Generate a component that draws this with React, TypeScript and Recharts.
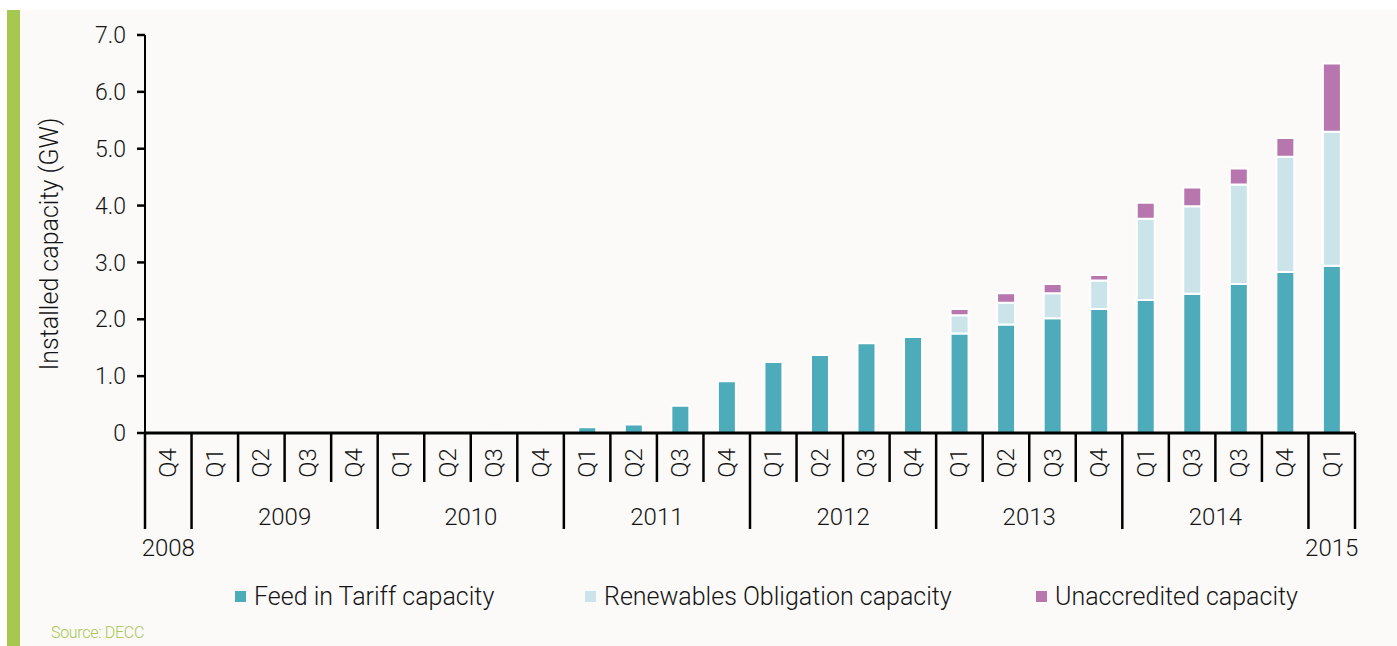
import React from 'react';
import { BarChart, Bar, XAxis, YAxis, Label } from 'recharts';

const quarters = ['Q4','Q1','Q2','Q3','Q4','Q1','Q2','Q3','Q4','Q1','Q2','Q3','Q4','Q1','Q2','Q3','Q4','Q1','Q2','Q3','Q4','Q1','Q3','Q3','Q4','Q1'];
const years = ['2008','2009','2009','2009','2009','2010','2010','2010','2010','2011','2011','2011','2011','2012','2012','2012','2012','2013','2013','2013','2013','2014','2014','2014','2014','2015'];
const feedInTariff = [0,0,0,0,0,0,0,0.01,0.01,0.10,0.15,0.48,0.91,1.25,1.37,1.58,1.69,1.75,1.91,2.02,2.18,2.34,2.45,2.62,2.83,2.94];
const renewablesObligation = [0,0,0,0,0,0,0,0,0,0,0,0,0,0,0,0,0,0.32,0.38,0.44,0.50,1.43,1.54,1.75,2.03,2.36];
const unaccredited = [0,0,0,0,0,0,0,0,0,0,0,0,0,0,0,0,0,0.11,0.17,0.16,0.10,0.28,0.33,0.28,0.33,1.20];
const yTicks = [0,1,2,3,4,5,6,7];

const seriesNames = ['Feed in Tariff capacity','Renewables Obligation capacity','Unaccredited capacity'];
const colors = ['#4eabba','#cbe4ea','#b776ae'];
const yAxisTitle = 'Installed capacity (GW)';

const data = quarters.map((q, i) => ({
  key: `${years[i]}-${q}-${i}`,
  fit: feedInTariff[i],
  ro: renewablesObligation[i],
  un: unaccredited[i],
}));

const W = 1397;
const H = 646;
const MARGIN = { top: 35, right: 42, left: 0, bottom: 93 };
const Y_AXIS_W = 145;
const X_AXIS_H = 120;
const N = quarters.length;
const BAND = (W - MARGIN.left - MARGIN.right - Y_AXIS_W) / N;
const TEXT = '#141414';
const FW = 300;

const QuarterTick = (props: any) => {
  const { x, y, index } = props;
  const i = index;
  const left = x - BAND / 2;
  const right = x + BAND / 2;
  const isYearStart = i === 0 || years[i] !== years[i - 1];
  const els: any[] = [];
  els.push(
    <line key="l" x1={left} x2={left} y1={y} y2={y + (isYearStart ? 96 : 49)} stroke="#000" strokeWidth={2.5} />
  );
  if (i === N - 1) {
    els.push(<line key="r" x1={right} x2={right} y1={y} y2={y + 96} stroke="#000" strokeWidth={2.5} />);
  }
  els.push(
    <text key="q" transform={`translate(${x},${y + 30}) rotate(-90)`} textAnchor="middle" dominantBaseline="central" fontSize={24} fontWeight={FW} fill={TEXT}>
      {quarters[i]}
    </text>
  );
  if (isYearStart) {
    let count = 0;
    while (i + count < N && years[i + count] === years[i]) count++;
    const cx = left + (count * BAND) / 2;
    const ly = count === 1 ? y + 115 : y + 84;
    els.push(
      <text key="y" x={cx} y={ly} textAnchor="middle" dominantBaseline="central" fontSize={24} fontWeight={FW} fill={TEXT}>
        {years[i]}
      </text>
    );
  }
  return <g>{els}</g>;
};

const YTitle = (props: any) => {
  const vb = props.viewBox || { x: 0, y: 35, width: 145, height: 398 };
  const cx = vb.x + 49;
  const cy = vb.y + vb.height / 2 + 10;
  return (
    <text transform={`translate(${cx},${cy}) rotate(-90)`} textAnchor="middle" dominantBaseline="central" fontSize={25} fontWeight={FW} fill={TEXT}>
      {yAxisTitle}
    </text>
  );
};

export default function App() {
  return (
    <div style={{ position: 'absolute', left: 0, top: 0, width: W, height: H, background: '#ffffff', fontFamily: 'Roboto, "Liberation Sans", sans-serif', overflow: 'hidden' }}>
      <div style={{ position: 'absolute', left: 20, top: 10, width: W - 20, height: H - 10, background: '#fbfaf9' }} />
      <div style={{ position: 'absolute', left: 7, top: 10, width: 13, height: H - 10, background: '#a6c750' }} />
      <div style={{ position: 'absolute', left: 0, top: 0 }}>
        <BarChart width={W} height={H} data={data} margin={MARGIN} barCategoryGap="31%">
          <XAxis
            dataKey="key"
            height={X_AXIS_H}
            interval={0}
            tickSize={0}
            tickMargin={0}
            tickLine={false}
            axisLine={{ stroke: '#000', strokeWidth: 3 }}
            tick={QuarterTick}
          />
          <YAxis
            width={Y_AXIS_W}
            domain={[0, 7]}
            ticks={yTicks}
            interval={0}
            tickSize={8}
            tickMargin={11}
            axisLine={{ stroke: '#000', strokeWidth: 2 }}
            tickLine={{ stroke: '#000', strokeWidth: 2.5 }}
            tick={{ fontSize: 23, fontWeight: FW, fill: TEXT }}
            tickFormatter={(v: number) => (v === 0 ? '0' : v.toFixed(1))}
          >
            <Label content={YTitle} />
          </YAxis>
          <Bar dataKey="fit" name={seriesNames[0]} stackId="a" fill={colors[0]} stroke="#ffffff" strokeWidth={2} isAnimationActive={false} />
          <Bar dataKey="ro" name={seriesNames[1]} stackId="a" fill={colors[1]} stroke="#ffffff" strokeWidth={2} isAnimationActive={false} />
          <Bar dataKey="un" name={seriesNames[2]} stackId="a" fill={colors[2]} stroke="#ffffff" strokeWidth={2} isAnimationActive={false} />
        </BarChart>
      </div>
      {[235, 585, 1036].map((lx, k) => (
        <div key={k} style={{ position: 'absolute', left: lx, top: 581, height: 30, display: 'flex', alignItems: 'center', whiteSpace: 'nowrap' }}>
          <div style={{ width: 11, height: 11, background: colors[k], marginRight: 8 }} />
          <span style={{ fontSize: 25, fontWeight: FW, color: TEXT }}>{seriesNames[k]}</span>
        </div>
      ))}
      <div style={{ position: 'absolute', left: 51, top: 623, fontSize: 16, fontWeight: FW, color: '#a6c750', letterSpacing: -0.3 }}>Source: DECC</div>
    </div>
  );
}
